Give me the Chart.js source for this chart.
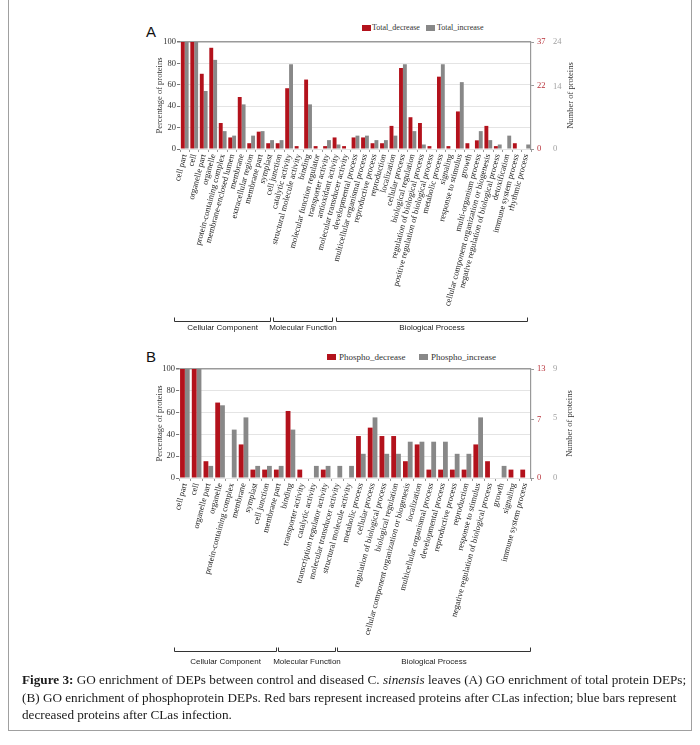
<!DOCTYPE html>
<html>
<head>
<meta charset="utf-8">
<script src="https://cdn.jsdelivr.net/npm/chart.js@4.4.0/dist/chart.umd.min.js"></script>
<style>
  body { margin: 0; background: #fff; width: 700px; height: 745px; position: relative; overflow: hidden; }
  #frame { position: absolute; left: 8px; top: -2px; width: 684px; height: 733px; border: 1px solid #a0a0a0; box-sizing: border-box; }
  .letter { position: absolute; font-family: "Liberation Sans", Arial, sans-serif; font-size: 15px; color: #111; }
  .wrap { position: absolute; left: 140px; width: 460px; }
  .leg { position: absolute; font-family: "Liberation Serif", serif; font-size: 9px; color: #333; white-space: nowrap; line-height: 10px; }
  .box { position: absolute; width: 9px; height: 6px; }
  .caption { position: absolute; left: 22px; top: 671px; font-family: "Liberation Serif", serif; font-size: 13.2px; line-height: 17.5px; white-space: nowrap; color: #1a1a1a; }
</style>
</head>
<body>
<div id="frame"></div>

<div class="letter" style="left:146px;top:23px">A</div>
<div class="box" style="left:362px;top:25px;background:#b3121c"></div>
<div class="leg" style="left:372px;top:23px;font-size:8px">Total_decrease</div>
<div class="box" style="left:426px;top:25px;background:#888"></div>
<div class="leg" style="left:437px;top:23px;font-size:8px">Total_increase</div>
<div class="wrap" style="top:20px;height:320px"><canvas id="chartA"></canvas></div>

<div class="letter" style="left:146px;top:348px">B</div>
<div class="box" style="left:327px;top:354px;background:#b3121c"></div>
<div class="leg" style="left:339px;top:352px">Phospho_decrease</div>
<div class="box" style="left:419px;top:354px;background:#888"></div>
<div class="leg" style="left:431px;top:352px">Phospho_increase</div>
<div class="wrap" style="top:345px;height:330px"><canvas id="chartB"></canvas></div>

<div class="caption"><b>Figure 3:</b> GO enrichment of DEPs between control and diseased C. <i>sinensis</i> leaves (A) GO enrichment of total protein DEPs;<br>(B) GO enrichment of phosphoprotein DEPs. Red bars represent increased proteins after CLas infection; blue bars represent<br>decreased proteins after CLas infection.</div>

<script>
const groups = ['Cellular Component', 'Molecular Function', 'Biological Process'];

// panel A - total proteins (percent of proteins)
const catsA = ['cell part', 'cell', 'organelle part', 'organelle', 'protein-containing complex', 'membrane-enclosed lumen',
  'membrane', 'extracellular region', 'membrane part', 'symplast', 'cell junction',
  'catalytic activity', 'structural molecule activity', 'binding', 'molecular function regulator', 'transporter activity',
  'antioxidant activity', 'molecular transducer activity',
  'developmental process', 'multicellular organismal process', 'reproductive process', 'reproduction', 'localization',
  'cellular process', 'biological regulation', 'regulation of biological process', 'positive regulation of biological process',
  'metabolic process', 'signaling', 'response to stimulus', 'growth', 'multi-organism process',
  'cellular component organization or biogenesis', 'negative regulation of biological process', 'detoxification',
  'immune system process', 'rhythmic process'];
const groupSizesA = [11, 7, 19];
const totalDecrease = [100, 100, 70.3, 94.6, 24.3, 10.8, 48.6, 5.4, 16.2, 5.4, 5.4,
  56.8, 2.7, 64.9, 2.7, 2.7, 10.8, 2.7,
  10.8, 10.8, 5.4, 5.4, 21.6, 75.7, 29.7, 24.3, 2.7, 67.6, 2.7, 35.1, 5.4, 8.1, 21.6, 2.7, 0, 5.4, 0];
const totalIncrease = [100, 100, 54.2, 83.3, 16.7, 12.5, 41.7, 12.5, 16.7, 8.3, 8.3,
  79.2, 0, 41.7, 0, 8.3, 4.2, 0,
  12.5, 12.5, 8.3, 8.3, 12.5, 79.2, 16.7, 4.2, 0, 79.2, 0, 62.5, 0, 16.7, 8.3, 4.2, 12.5, 0, 4.2];
const countTicksA_dec = [0, 22, 37];
const countTicksA_inc = [0, 14, 24];

// panel B - phosphoproteins
const catsB = ['cell part', 'cell', 'organelle part', 'organelle', 'protein-containing complex', 'membrane', 'symplast',
  'cell junction', 'membrane part',
  'binding', 'transporter activity', 'catalytic activity', 'transcription regulator activity',
  'molecular transducer activity', 'structural molecule activity',
  'metabolic process', 'cellular process', 'regulation of biological process', 'biological regulation',
  'cellular component organization or biogenesis', 'localization', 'multicellular organismal process',
  'developmental process', 'reproductive process', 'reproduction', 'response to stimulus',
  'negative regulation of biological process', 'growth', 'signaling', 'immune system process'];
const groupSizesB = [9, 6, 15];
const phosphoDecrease = [100, 100, 15.4, 69.2, 0, 30.8, 7.7, 7.7, 7.7,
  61.5, 7.7, 0, 7.7, 0, 0,
  38.5, 46.2, 38.5, 38.5, 15.4, 30.8, 7.7, 7.7, 7.7, 7.7, 30.8, 15.4, 0, 7.7, 7.7];
const phosphoIncrease = [100, 100, 11.1, 66.7, 44.4, 55.6, 11.1, 11.1, 11.1,
  44.4, 0, 11.1, 11.1, 11.1, 11.1,
  22.2, 55.6, 22.2, 22.2, 33.3, 33.3, 33.3, 33.3, 22.2, 22.2, 55.6, 0, 11.1, 0, 0];
const countTicksB_dec = [0, 7, 13];
const countTicksB_inc = [0, 5, 9];

const RED = '#b3121c';
const GRAY = '#888888';
const serif = 'Liberation Serif';

// brackets under the labels + right axis title
const extras = {
  id: 'extras',
  afterDraw(chart, args, o) {
    const ctx = chart.ctx;
    const x = chart.scales.x;
    const area = chart.chartArea;
    const step = x.getPixelForTick(1) - x.getPixelForTick(0);
    ctx.save();
    ctx.strokeStyle = '#333';
    ctx.lineWidth = 1;
    ctx.fillStyle = '#222';
    ctx.font = '8px "Liberation Sans"';
    ctx.textAlign = 'center';
    ctx.textBaseline = 'middle';
    let start = 0;
    o.sizes.forEach((n, i) => {
      // hand drawn looking brackets: shifted a bit left of the real group edges
      const l = Math.round(x.getPixelForTick(start) - step / 2 + o.shift[i][0]) + 0.5;
      const r = Math.round(x.getPixelForTick(start + n - 1) + step / 2 + o.shift[i][1]) + 0.5;
      const y = o.bracketY + 0.5;
      ctx.beginPath();
      ctx.moveTo(l, y - 4); ctx.lineTo(l, y); ctx.lineTo(r, y); ctx.lineTo(r, y - 4);
      ctx.stroke();
      ctx.fillText(groups[i], (l + r) / 2, o.labelY);
      start += n;
    });
    ctx.font = '8.5px "' + serif + '"';
    ctx.fillStyle = '#333';
    ctx.translate(o.titleX, (area.top + area.bottom) / 2);
    ctx.rotate(-Math.PI / 2);
    ctx.fillText('Number of proteins', 0, 0);
    ctx.restore();
  }
};

function makeChart(id, cats, dec, inc, names, decTicks, incTicks, sizes, g) {
  return new Chart(document.getElementById(id), {
    type: 'bar',
    data: {
      labels: cats,
      datasets: [
        { label: names[0], data: dec, backgroundColor: RED, categoryPercentage: 0.82, barPercentage: 1 },
        { label: names[1], data: inc, backgroundColor: GRAY, categoryPercentage: 0.82, barPercentage: 1 }
      ]
    },
    options: {
      responsive: true,
      maintainAspectRatio: false,
      animation: false,
      layout: { padding: { top: g.top, right: g.right, bottom: g.bottom, left: 0 } },
      plugins: {
        legend: { display: false },
        tooltip: { enabled: false },
        extras: { sizes: sizes, shift: g.shift, bracketY: g.bracketY, labelY: g.labelY, titleX: g.titleX }
      },
      scales: {
        x: {
          grid: { drawOnChartArea: false, tickLength: 3, tickColor: '#999' },
          border: { display: false },
          ticks: { autoSkip: false, minRotation: 75, maxRotation: 75, padding: 1, color: '#222',
            font: { family: serif, size: 8.5 } },
          afterFit: s => { s.height = g.xHeight; }
        },
        y: {
          min: 0, max: 100,
          ticks: { stepSize: 20, padding: 1, color: '#333', font: { family: serif, size: 8.5 } },
          grid: {
            color: c => c.tick.value === 100 ? '#9a9a9a' : '#e4e4e4',
            lineWidth: c => c.tick.value === 100 ? 1.5 : 1,
            tickLength: 3, tickColor: '#777'
          },
          border: { display: false },
          title: { display: true, text: 'Percentage of proteins', color: '#333', padding: { top: 15, bottom: 0 },
            font: { family: serif, size: 8.5 } },
          afterFit: s => { s.width = g.yWidth; }
        },
        y1: {
          position: 'right',
          min: 0, max: decTicks[decTicks.length - 1],
          afterBuildTicks: s => { s.ticks = decTicks.map(v => ({ value: v })); },
          ticks: { padding: 3, color: '#b8323a', font: { family: serif, size: 8.5 } },
          grid: { drawOnChartArea: false, tickLength: 3, tickColor: '#999' },
          border: { color: '#999', width: 1.2 },
          afterFit: s => { s.width = 20; }
        },
        y2: {
          position: 'right',
          min: 0, max: incTicks[incTicks.length - 1],
          afterBuildTicks: s => { s.ticks = incTicks.map(v => ({ value: v })); },
          ticks: { padding: 2, color: '#a0a0a0', font: { family: serif, size: 8.5 } },
          grid: { drawOnChartArea: false, drawTicks: false, tickLength: 0 },
          border: { display: false },
          afterFit: s => { s.width = 14; }
        }
      }
    },
    plugins: [extras]
  });
}

makeChart('chartA', catsA, totalDecrease, totalIncrease, ['Total_decrease', 'Total_increase'],
  countTicksA_dec, countTicksA_inc, groupSizesA,
  { top: 22, right: 35, bottom: 20, xHeight: 171, yWidth: 40, bracketY: 301, labelY: 308, titleX: 431,
    shift: [[-6, -14], [-11, -19], [-15, -4]] });

makeChart('chartB', catsB, phosphoDecrease, phosphoIncrease, ['Phospho_decrease', 'Phospho_increase'],
  countTicksB_dec, countTicksB_inc, groupSizesB,
  { top: 24, right: 35, bottom: 25, xHeight: 172, yWidth: 39, bracketY: 306, labelY: 317, titleX: 430,
    shift: [[-5, -9], [-7, -20], [-18, -1]] });
</script>
</body>
</html>
